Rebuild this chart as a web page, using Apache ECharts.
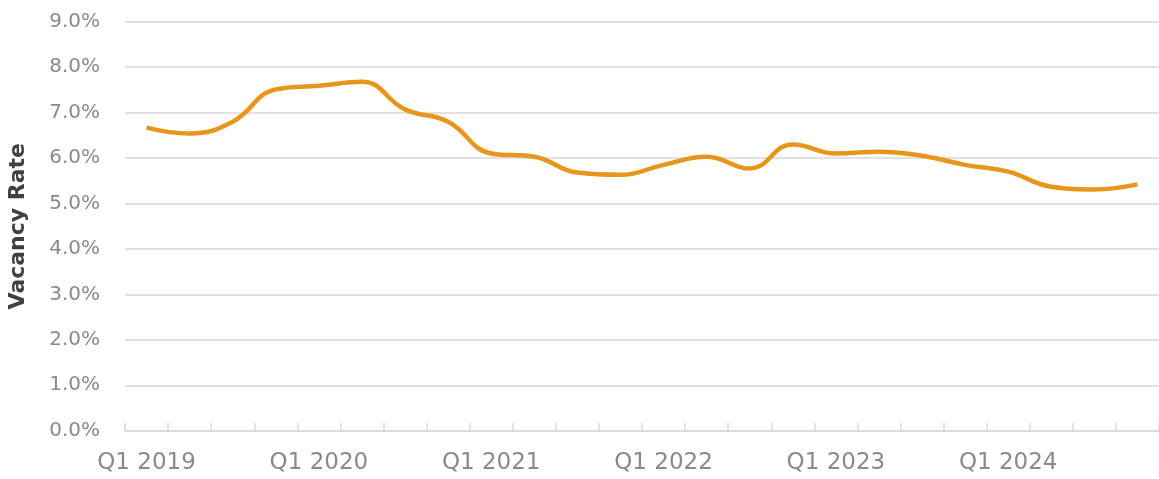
<!DOCTYPE html>
<html>
<head>
<meta charset="utf-8">
<script src="https://cdn.jsdelivr.net/npm/echarts@6/dist/echarts.min.js"></script>
<style>html,body{margin:0;padding:0;background:#fff;}#c{width:1159px;height:479px;}</style>
</head>
<body>
<div id="c"></div>
<script>
const categories = ['Q1 2019','Q2 2019','Q3 2019','Q4 2019','Q1 2020','Q2 2020','Q3 2020','Q4 2020',
  'Q1 2021','Q2 2021','Q3 2021','Q4 2021','Q1 2022','Q2 2022','Q3 2022','Q4 2022',
  'Q1 2023','Q2 2023','Q3 2023','Q4 2023','Q1 2024','Q2 2024','Q3 2024','Q4 2024'];
const vacancyRate = [6.67, 6.54, 6.80, 7.51, 7.59, 7.68, 7.07, 6.80,
  6.10, 6.03, 5.68, 5.63, 5.85, 6.03, 5.77, 6.30,
  6.10, 6.14, 6.05, 5.85, 5.70, 5.37, 5.31, 5.42];
const yTicks = { min: 0, max: 9, interval: 1 };
const yName = 'Vacancy Rate';

const chart = echarts.init(document.getElementById('c'), null, {renderer: 'canvas'});
chart.setOption({
  animation: false,
  backgroundColor: '#ffffff',
  grid: { left: 125, right: 0, top: 21.7, bottom: 48.3, containLabel: false, outerBoundsMode: 'none' },
  xAxis: {
    type: 'category',
    data: categories,
    boundaryGap: true,
    axisLine: { lineStyle: { color: '#d9d9d9', width: 1.5 } },
    axisTick: { show: true, inside: true, length: 8, interval: 0, lineStyle: { color: '#d9d9d9', width: 1.5 } },
    axisLabel: { interval: 3, margin: 21, fontFamily: 'DejaVu Sans', fontSize: 23, color: '#8a8a8a' },
    splitLine: { show: false }
  },
  yAxis: {
    type: 'value',
    min: yTicks.min, max: yTicks.max, interval: yTicks.interval,
    name: yName,
    nameLocation: 'middle',
    nameGap: 96,
    nameRotate: 90,
    nameTextStyle: { fontFamily: 'DejaVu Sans', fontWeight: 'bold', fontSize: 22, color: '#404040' },
    axisLine: { show: false },
    axisTick: { show: false },
    axisLabel: { margin: 25, fontFamily: 'DejaVu Sans', fontSize: 20, color: '#8a8a8a',
      formatter: v => v.toFixed(1) + '%' },
    splitLine: { lineStyle: { color: '#d9d9d9', width: 1.5 } }
  },
  series: [{
    type: 'line',
    data: vacancyRate,
    smooth: 0.45,
    symbol: 'none',
    lineStyle: { color: '#E8951C', width: 4.5 }
  }]
});
</script>
</body>
</html>
